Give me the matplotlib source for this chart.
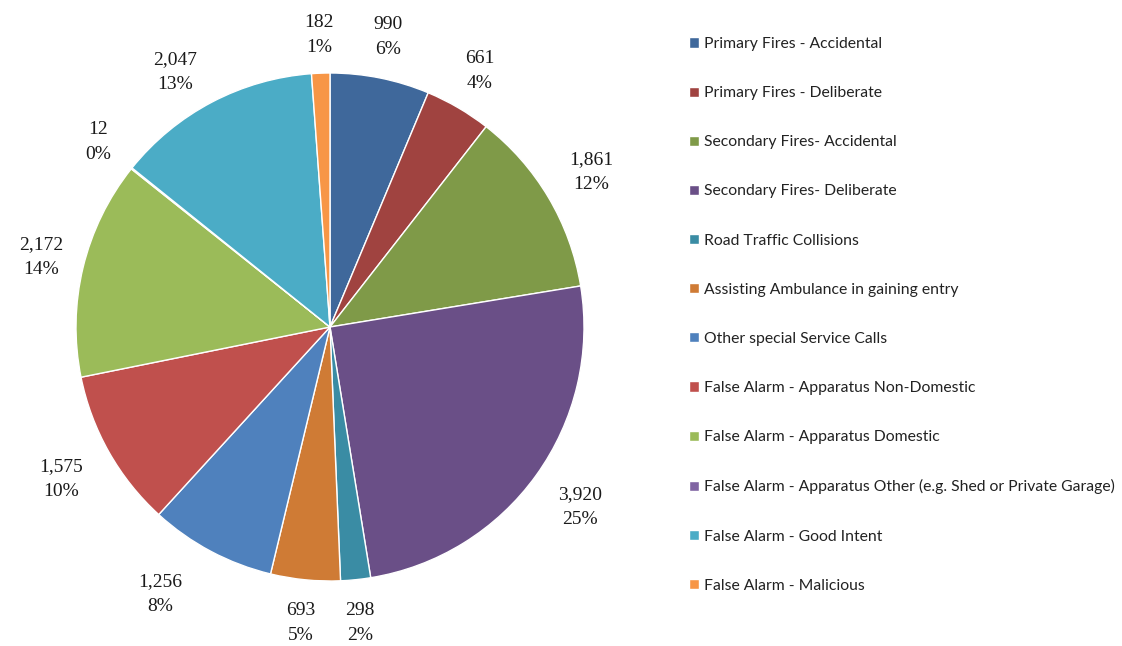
import matplotlib
matplotlib.use("Agg")
import matplotlib.pyplot as plt
import numpy as np

categories = [
    "Primary Fires - Accidental",
    "Primary Fires - Deliberate",
    "Secondary Fires- Accidental",
    "Secondary Fires- Deliberate",
    "Road Traffic Collisions",
    "Assisting Ambulance in gaining entry",
    "Other special Service Calls",
    "False Alarm - Apparatus Non-Domestic",
    "False Alarm - Apparatus Domestic",
    "False Alarm - Apparatus Other (e.g. Shed or Private Garage)",
    "False Alarm - Good Intent",
    "False Alarm - Malicious",
]
values = [990, 661, 1861, 3920, 298, 693, 1256, 1575, 2172, 12, 2047, 182]
percents = [6, 4, 12, 25, 2, 5, 8, 10, 14, 0, 13, 1]
colors = ["#3F689B", "#A04340", "#7F9A48", "#6A4F87", "#3A8CA4", "#CF7B35",
          "#4F81BD", "#C0504D", "#9BBB59", "#8064A2", "#4BACC6", "#F79646"]

# label layout (Excel best-fit placement), distance in radii and angle nudge in degrees
label_dist = [1.166, 1.169, 1.196, 1.213, 1.173, 1.17, 1.246, 1.218, 1.17, 1.167, 1.175, 1.15]
label_nudge = [0, 0, 0, 0, 0, 0, -4.4, 0, 0, 0, 3.6, 0]

W, H = 1122, 646
fig = plt.figure(figsize=(W / 100, H / 100), dpi=100)
R = 254.0
cx, cy = 330.0, 327.0
ax = fig.add_axes([0, 0, 660 / W, 1])

wedges, _ = ax.pie(values, colors=colors, startangle=90, counterclock=False,
                   radius=1.0,
                   wedgeprops=dict(edgecolor="white", linewidth=1.0))
for w, v, p, d, n in zip(wedges, values, percents, label_dist, label_nudge):
    ang = np.deg2rad((w.theta1 + w.theta2) / 2 + n)
    ax.text(d * np.cos(ang), d * np.sin(ang), f"{v:,}\n{p}%",
            ha="center", va="center", fontsize=14, family="Liberation Serif",
            color="#1a1a1a", linespacing=1.62)

ax.set_xlim(-cx / R, (660 - cx) / R)
ax.set_ylim(-(H - cy) / R, cy / R)
ax.set_aspect("auto")
ax.axis("off")

leg = fig.legend(wedges, categories, loc="upper left",
                 bbox_to_anchor=(689 / W, 1 - 37 / H),
                 frameon=False, prop=dict(family="Lato", size=11.3),
                 handlelength=0.62, handleheight=0.62, handletextpad=0.35,
                 labelspacing=2.24, borderaxespad=0, borderpad=0)
for t in leg.get_texts():
    t.set_color("#222222")

fig.savefig("out.png", dpi=100)
